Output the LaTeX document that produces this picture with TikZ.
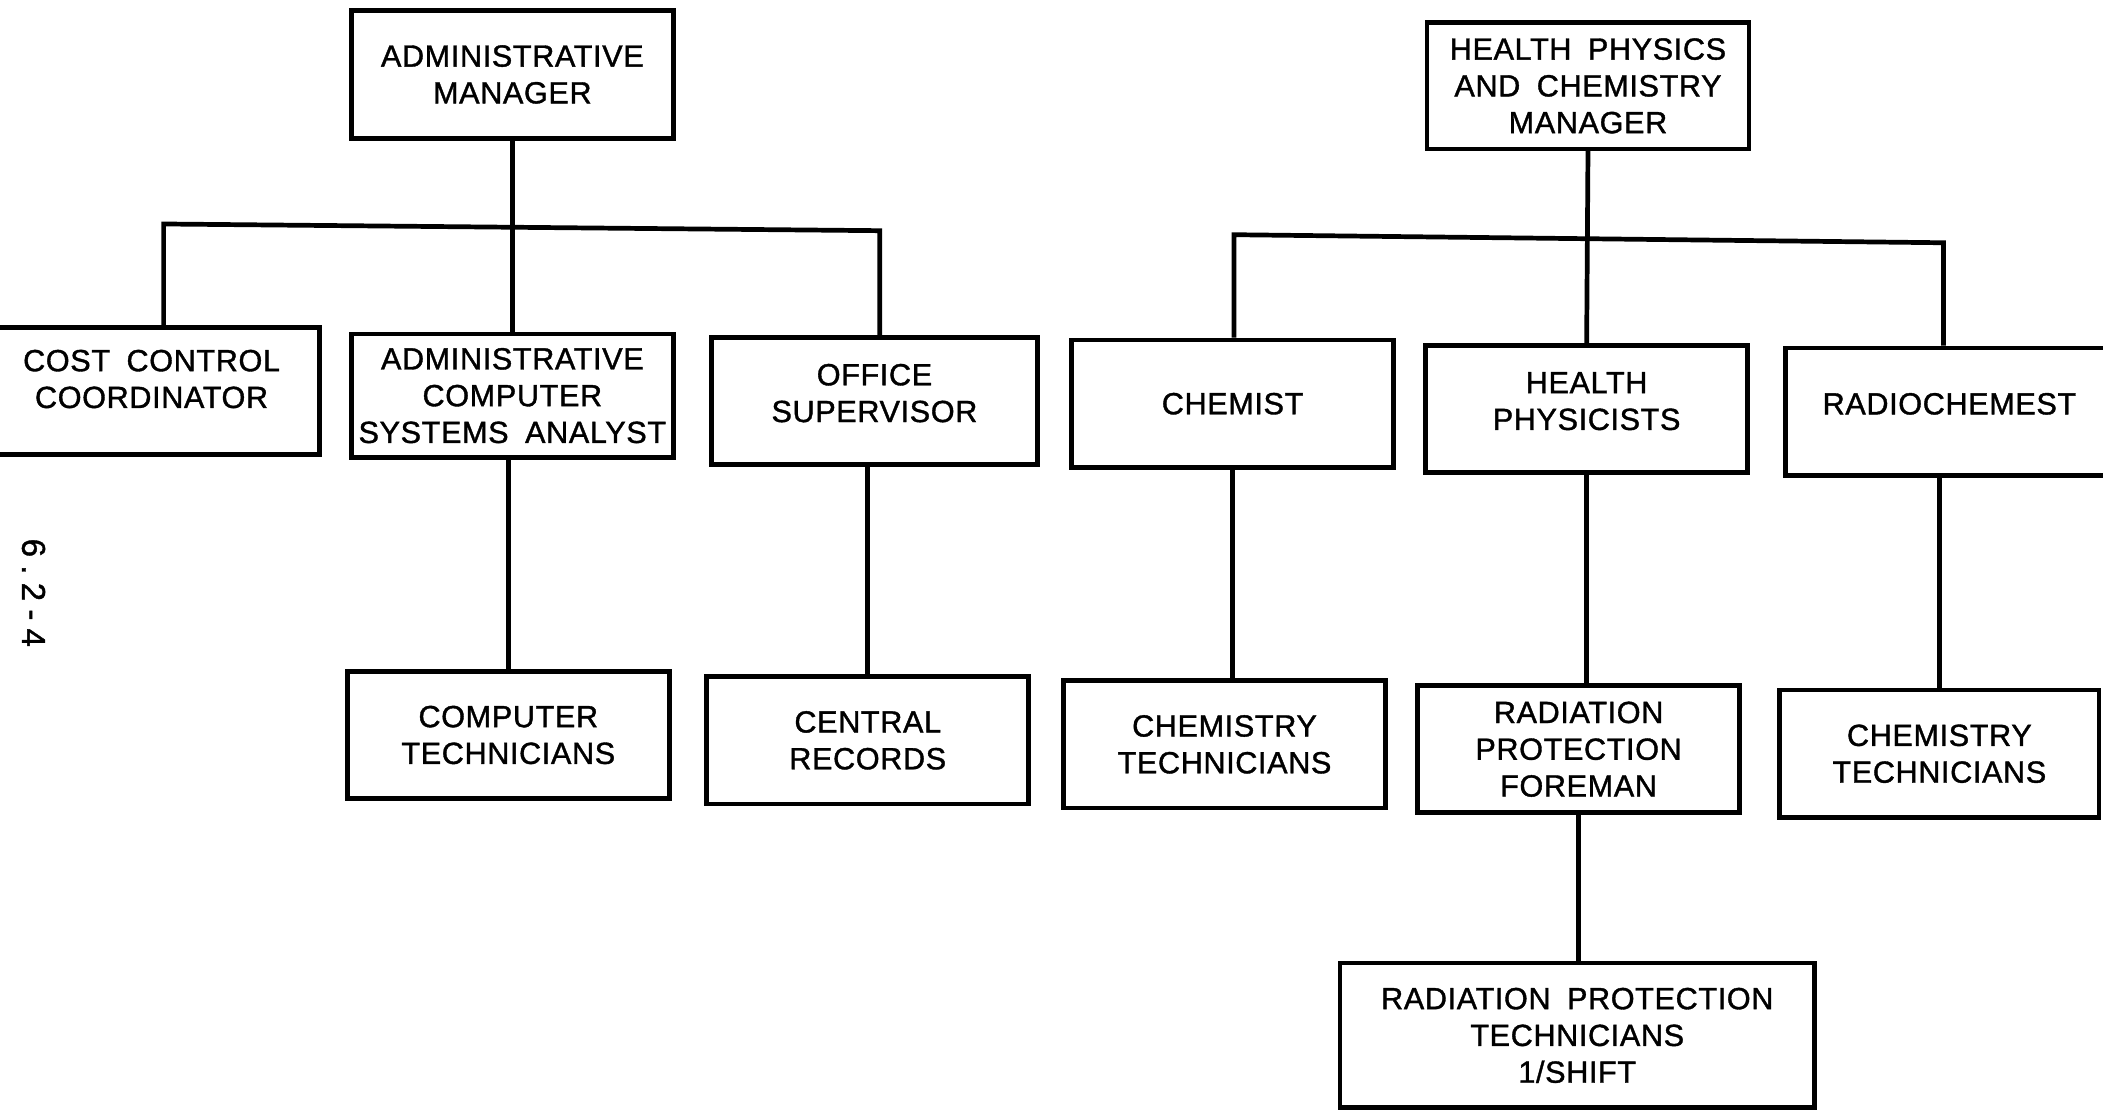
\documentclass[tikz,border=0pt]{standalone}
\usepackage{fontspec}
\setmainfont{Liberation Sans}[LetterSpace=2,WordSpace=1.8,FakeBold=1.2]
\newfontfamily\pagefont{Liberation Sans}[LetterSpace=25,FakeBold=1.2]
\begin{document}
\begin{tikzpicture}[x=0.2mm,y=-0.2mm,
   orgbox/.style={draw,line width=2pt,minimum width=48mm,minimum height=19mm,
      inner sep=1pt,align=center,font=\fontsize{13}{15.6}\selectfont},
   lift/.style={text depth=#1},
   link/.style={line width=2pt}]

   \useasboundingbox (0,0) rectangle (1568,828);

   % administrative side
   \node (admmgr) at (382,55.5) [orgbox] {ADMINISTRATIVE\\MANAGER};
   \node (costctl) at (113,291.5) [orgbox,minimum width=50mm,lift=3.6mm] {COST CONTROL\\COORDINATOR};
   \node (analyst) at (382,295) [orgbox,minimum height=18.4mm] {ADMINISTRATIVE\\COMPUTER\\SYSTEMS ANALYST};
   \node (office) at (652,299) [orgbox,minimum width=48.6mm,lift=2.4mm] {OFFICE\\SUPERVISOR};
   \node (comptech) at (379,548) [orgbox] {COMPUTER\\TECHNICIANS};
   \node (cenrec) at (647,552) [orgbox] {CENTRAL\\RECORDS};

   % health physics side
   \node (hpcmgr) at (1184,64) [orgbox,minimum height=18.8mm] {HEALTH PHYSICS\\AND CHEMISTRY\\MANAGER};
   \node (chemist) at (919,301) [orgbox] {CHEMIST};
   \node (hphys) at (1183,305) [orgbox,lift=2.4mm] {HEALTH\\PHYSICISTS};
   \node (radchem) at (1453.5,307) [orgbox,minimum width=49mm,lift=2.4mm] {RADIOCHEMEST};
   \node (chemtechA) at (913,555) [orgbox] {CHEMISTRY\\TECHNICIANS};
   \node (rpfore) at (1177,558.5) [orgbox,lift=-1.4mm] {RADIATION\\PROTECTION\\FOREMAN};
   \node (chemtechB) at (1446,562) [orgbox,minimum width=47.6mm] {CHEMISTRY\\TECHNICIANS};
   \node (rptech) at (1176,772) [orgbox,minimum width=70.8mm,minimum height=21.6mm] {RADIATION PROTECTION\\TECHNICIANS\\1/SHIFT};

   \node (pagenum) at (25,442) [rotate=-90,font=\pagefont\fontsize{14}{14}\selectfont] {6.2-4};

   \coordinate (lbusL) at (122,167);
   \coordinate (lbusR) at (656,172);
   \coordinate (rbusL) at (920,175);
   \coordinate (rbusR) at (1449,181);

   \draw [link] (admmgr.south) -- (analyst.north);
   \draw [link] (costctl.north -| lbusL) -- (lbusL) -- (lbusR) -- (office.north -| lbusR);

   \draw [link] (comptech.north) -- (comptech.north |- analyst.south);
   \draw [link] (cenrec.north) -- (cenrec.north |- office.south);

   \draw [link] (hpcmgr.south) -- (hphys.north);
   \draw [link] (chemist.north -| rbusL) -- (rbusL) -- (rbusR) -- (radchem.north -| rbusR);

   \draw [link] (chemist.south) -- (chemist.south |- chemtechA.north);
   \draw [link] (hphys.south) -- (hphys.south |- rpfore.north);
   \draw [link] (chemtechB.north) -- (chemtechB.north |- radchem.south);
   \draw [link] (rpfore.south) -- (rpfore.south |- rptech.north);

\end{tikzpicture}
\end{document}
